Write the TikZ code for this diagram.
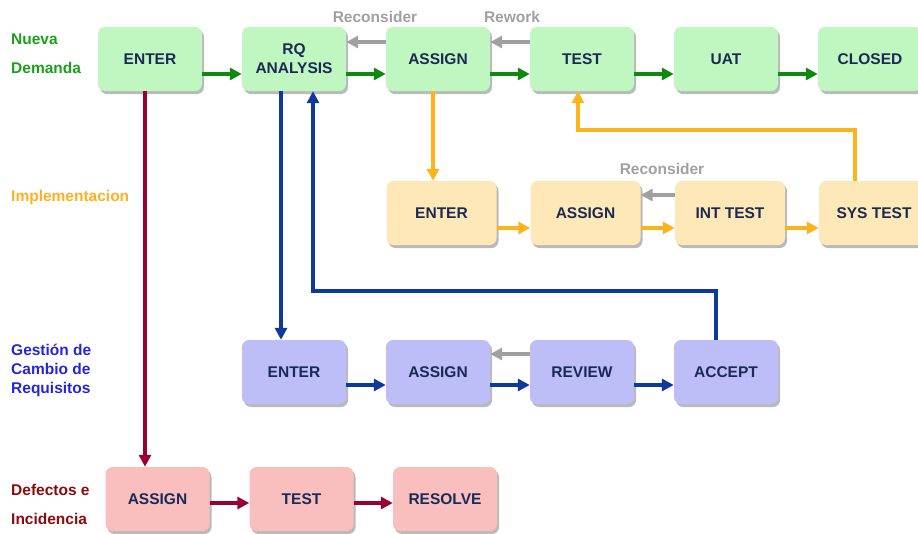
\documentclass[tikz,border=0pt]{standalone}
\usepackage{fontspec}
\setmainfont{Liberation Sans}
\usetikzlibrary{arrows.meta,shadows}
\definecolor{gfill}{HTML}{C0F6C0}
\definecolor{ofill}{HTML}{FEE8B8}
\definecolor{bfill}{HTML}{BDBDF8}
\definecolor{rfill}{HTML}{F9BFBF}
\definecolor{txt}{HTML}{1A2A55}
\definecolor{garr}{HTML}{0E8A0E}
\definecolor{oarr}{HTML}{FFB31A}
\definecolor{barr}{HTML}{0D3A9A}
\definecolor{rarr}{HTML}{990033}
\definecolor{grarr}{HTML}{A0A0A0}
\definecolor{glab}{HTML}{1AA01A}
\definecolor{olab}{HTML}{FFB020}
\definecolor{blab}{HTML}{2424E0}
\definecolor{rlab}{HTML}{8B0A0A}
\tikzset{
  box/.style={rounded corners=7pt, minimum width=104pt, minimum height=64pt,
    inner sep=0pt, font=\fontsize{15.5}{19}\selectfont\bfseries, text=txt, align=center,
    drop shadow={shadow xshift=2pt, shadow yshift=-3pt, fill=black!60, opacity=0.45}},
  gbox/.style={box, fill=gfill},
  obox/.style={box, fill=ofill, minimum width=110pt},
  bbox/.style={box, fill=bfill},
  rbox/.style={box, fill=rfill},
  arr/.style={line width=4pt, -{Triangle[length=12pt,width=12pt]}},
  garrow/.style={arr, draw=garr},
  oarrow/.style={arr, draw=oarr},
  barrow/.style={arr, draw=barr},
  rarrow/.style={arr, draw=rarr},
  grarrow/.style={arr, draw=grarr},
  lab/.style={anchor=west, align=left, inner sep=0pt},
  glabel/.style={font=\fontsize{15.5}{19}\selectfont\bfseries, text=grarr, inner sep=0pt},
}
\begin{document}
\begin{tikzpicture}[x=1pt,y=-1pt]
\useasboundingbox (0,0) rectangle (918,533);
% left labels
\node[lab, text=glab, font=\fontsize{15.5}{29}\selectfont\bfseries] (l1) at (11,53.5) {Nueva\\Demanda};
\node[lab, text=olab, font=\fontsize{15.5}{19}\selectfont\bfseries] (l2) at (11,197) {Implementacion};
\node[lab, text=blab, font=\fontsize{15.5}{19}\selectfont\bfseries] (l3) at (11,370) {Gestión de\\Cambio de\\Requisitos};
\node[lab, text=rlab, font=\fontsize{15.5}{29}\selectfont\bfseries] (l4) at (11,504.5) {Defectos e\\Incidencia};
% top row
\node[gbox] (ge) at (150,59) {ENTER};
\node[gbox] (grq) at (294,59) {RQ\\ANALYSIS};
\node[gbox] (ga) at (438,59) {ASSIGN};
\node[gbox] (gt) at (582,59) {TEST};
\node[gbox] (gu) at (726,59) {UAT};
\node[gbox] (gc) at (870,59) {CLOSED};
% implementation row
\node[obox] (oe) at (441.5,213) {ENTER};
\node[obox] (oa) at (585.5,213) {ASSIGN};
\node[obox] (oi) at (730,213) {INT TEST};
\node[obox] (os) at (874,213) {SYS TEST};
% blue row
\node[bbox] (be) at (294,372) {ENTER};
\node[bbox] (ba) at (438,372) {ASSIGN};
\node[bbox] (br) at (582,372) {REVIEW};
\node[bbox] (bc) at (726,372) {ACCEPT};
% red row
\node[rbox] (ra) at (157.5,499) {ASSIGN};
\node[rbox] (rt) at (301.5,499) {TEST};
\node[rbox] (rr) at (445,499) {RESOLVE};
% gray labels
\node[glabel] (t1) at (375,17) {Reconsider};
\node[glabel] (t2) at (512,17) {Rework};
\node[glabel] (t3) at (662,169) {Reconsider};
% top row arrows
\draw[garrow] (ge.east |- 0,74) -- (grq.west |- 0,74);
\draw[garrow] (grq.east |- 0,74) -- (ga.west |- 0,74);
\draw[garrow] (ga.east |- 0,74) -- (gt.west |- 0,74);
\draw[garrow] (gt.east |- 0,74) -- (gu.west |- 0,74);
\draw[garrow] (gu.east |- 0,74) -- (gc.west |- 0,74);
\draw[grarrow] (ga.west |- 0,42) -- (grq.east |- 0,42);
\draw[grarrow] (gt.west |- 0,42) -- (ga.east |- 0,42);
% implementation arrows
\draw[oarrow] (oe.east |- 0,228) -- (oa.west |- 0,228);
\draw[oarrow] (oa.east |- 0,228) -- (oi.west |- 0,228);
\draw[oarrow] (oi.east |- 0,228) -- (os.west |- 0,228);
\draw[grarrow] (oi.west |- 0,195) -- (oa.east |- 0,195);
\draw[oarrow] (433,0 |- ga.south) -- (433,0 |- oe.north);
\draw[oarrow] (855,0 |- os.north) -- (855,130) -- (578,130) -- (578,0 |- gt.south);
% blue arrows
\draw[barrow] (be.east |- 0,385) -- (ba.west |- 0,385);
\draw[barrow] (ba.east |- 0,385) -- (br.west |- 0,385);
\draw[barrow] (br.east |- 0,385) -- (bc.west |- 0,385);
\draw[grarrow] (br.west |- 0,354) -- (ba.east |- 0,354);
\draw[barrow] (281,0 |- grq.south) -- (281,0 |- be.north);
\draw[barrow] (716,0 |- bc.north) -- (716,291) -- (313,291) -- (313,0 |- grq.south);
% red arrows
\draw[rarrow] (ra.east |- 0,503) -- (rt.west |- 0,503);
\draw[rarrow] (rt.east |- 0,503) -- (rr.west |- 0,503);
\draw[rarrow] (145,0 |- ge.south) -- (145,0 |- ra.north);
\end{tikzpicture}
\end{document}
